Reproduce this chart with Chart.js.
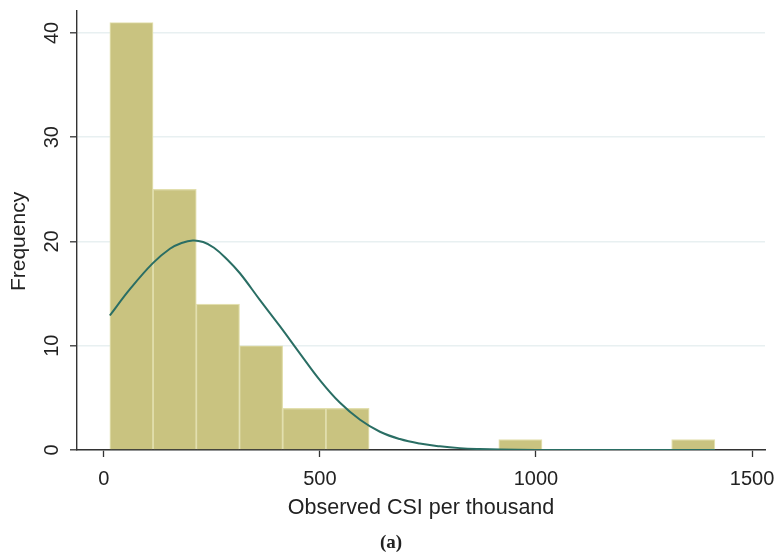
<!DOCTYPE html>
<html>
<head>
<meta charset="utf-8">
<script src="https://cdn.jsdelivr.net/npm/chart.js@4/dist/chart.umd.min.js"></script>
<style>
html,body{margin:0;padding:0;background:#fff;}
#wrap{width:778px;height:552px;position:relative;}
</style>
</head>
<body>
<div id="wrap"><canvas id="c" width="778" height="552"></canvas></div>
<script>
// Histogram bins (width 100, first bin starts at ~14)
const binCenters = [64, 164, 264, 364, 464, 564, 664, 764, 864, 964, 1064, 1164, 1264, 1364];
const frequencies = [41, 25, 14, 10, 4, 4, 0, 0, 0, 1, 0, 0, 0, 1];
// Fitted density curve
const curveX = [14, 60, 113, 153, 180, 206, 230, 255, 285, 315, 361, 407, 454, 500, 546, 593, 639, 685, 731, 778, 824, 870, 916, 1000, 1100, 1200, 1300, 1414];
const curveY = [12.9, 15.4, 17.9, 19.3, 19.85, 20.1, 19.95, 19.4, 18.3, 16.95, 14.4, 11.9, 9.25, 6.7, 4.55, 2.9, 1.75, 1.05, 0.62, 0.35, 0.18, 0.09, 0.04, 0.01, 0, 0, 0, 0];
const xTicks = [0, 500, 1000, 1500];
const yTicks = [0, 10, 20, 30, 40];
const xTitle = "Observed CSI per thousand";
const yTitle = "Frequency";
const panelLabel = "(a)";

const textColor = '#222222';
const axisColor = '#333333';

const textPlugin = {
  id: 'texts',
  afterDraw(chart) {
    const ctx = chart.ctx;
    const xs = chart.scales.x, ys = chart.scales.y;
    const ca = chart.chartArea;
    ctx.save();
    ctx.fillStyle = textColor;
    ctx.font = '20px "Liberation Sans", Arial, sans-serif';
    ctx.textAlign = 'center';
    ctx.textBaseline = 'alphabetic';
    xTicks.forEach(v => ctx.fillText(String(v), xs.getPixelForValue(v), 485));
    yTicks.forEach(v => {
      ctx.save();
      ctx.translate(58, ys.getPixelForValue(v));
      ctx.rotate(-Math.PI / 2);
      ctx.fillText(String(v), 0, 0);
      ctx.restore();
    });
    ctx.font = '21.5px "Liberation Sans", Arial, sans-serif';
    ctx.fillText(xTitle, (ca.left + ca.right) / 2, 514);
    ctx.font = '21px "Liberation Sans", Arial, sans-serif';
    ctx.save();
    ctx.translate(25, (ys.getPixelForValue(0) + ys.getPixelForValue(40)) / 2);
    ctx.rotate(-Math.PI / 2);
    ctx.fillText(yTitle, 0, 0);
    ctx.restore();
    ctx.font = 'bold 19px "Liberation Serif", "Times New Roman", serif';
    ctx.fillText(panelLabel, chart.width / 2 + 2, 548);
    ctx.restore();
  }
};

new Chart(document.getElementById('c'), {
  data: {
    datasets: [
      {
        type: 'line',
        data: curveX.map((x, i) => ({ x: x, y: curveY[i] })),
        borderColor: '#2a6e64',
        borderWidth: 2,
        pointRadius: 0,
        tension: 0.4,
        fill: false,
        order: 0
      },
      {
        type: 'bar',
        data: binCenters.map((x, i) => ({ x: x, y: frequencies[i] })),
        backgroundColor: '#c9c380',
        borderColor: '#e2dfae',
        borderWidth: 1.2,
        borderSkipped: 'bottom',
        barPercentage: 1,
        categoryPercentage: 1,
        grouped: false,
        order: 1
      }
    ]
  },
  options: {
    responsive: false,
    animation: false,
    layout: { padding: { top: 11, right: 13, left: 0, bottom: 0 } },
    plugins: { legend: { display: false }, tooltip: { enabled: false } },
    scales: {
      x: {
        type: 'linear',
        offset: false,
        min: -62,
        max: 1530,
        afterBuildTicks: s => { s.ticks = xTicks.map(v => ({ value: v })); },
        afterFit: s => { s.height = 102; },
        ticks: { display: false },
        grid: { display: true, offset: false, drawOnChartArea: false, tickLength: 7, tickColor: axisColor, tickWidth: 1.3 },
        border: { display: true, color: axisColor, width: 1.4 }
      },
      y: {
        type: 'linear',
        min: 0,
        max: 42.1,
        afterBuildTicks: s => { s.ticks = yTicks.map(v => ({ value: v })); },
        afterFit: s => { s.width = 77; },
        ticks: { display: false },
        grid: { display: true, drawOnChartArea: true, color: '#e8f0f1', lineWidth: 1.6, tickLength: 7, tickColor: axisColor, tickWidth: 1.3 },
        border: { display: true, color: axisColor, width: 1.4 }
      }
    }
  },
  plugins: [textPlugin]
});
</script>
</body>
</html>
